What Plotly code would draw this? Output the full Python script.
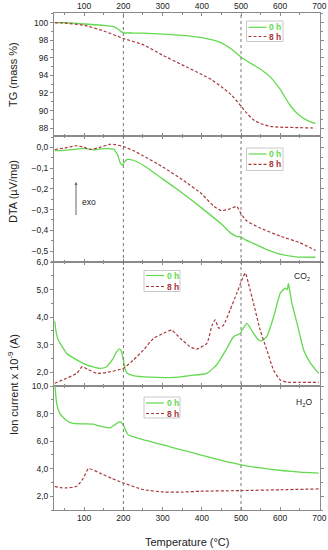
import plotly.graph_objects as go
from plotly.subplots import make_subplots

# ---------------- data ----------------
tg_t0 = [25, 50, 100, 150, 175, 185, 195, 200, 225, 250, 300, 350, 400, 430, 450, 475, 500, 520, 535, 550, 575, 600, 625, 650, 670, 690]
tg_0h = [100.0, 100.0, 99.85, 99.7, 99.55, 99.3, 98.95, 98.85, 98.82, 98.8, 98.7, 98.55, 98.3, 98.0, 97.7, 97.0, 96.1, 95.5, 95.1, 94.7, 93.8, 92.4, 90.6, 89.4, 88.85, 88.5]
tg_t8 = [25, 50, 100, 150, 200, 250, 300, 350, 400, 425, 450, 475, 500, 515, 530, 550, 575, 600, 650, 690]
tg_8h = [100.0, 99.95, 99.7, 99.05, 98.2, 97.5, 96.3, 95.2, 94.1, 93.5, 92.7, 91.8, 90.5, 89.7, 89.0, 88.5, 88.2, 88.1, 88.05, 88.0]

dta_t0 = [25, 50, 75, 100, 125, 150, 175, 185, 192, 197, 203, 210, 225, 250, 300, 350, 400, 450, 475, 490, 500, 510, 530, 560, 600, 640, 690]
dta_0h = [-0.016, -0.014, -0.01, -0.005, -0.012, -0.006, -0.008, -0.035, -0.075, -0.085, -0.07, -0.058, -0.062, -0.085, -0.152, -0.22, -0.293, -0.37, -0.415, -0.43, -0.432, -0.445, -0.462, -0.488, -0.515, -0.528, -0.53]
dta_t8 = [25, 50, 80, 100, 115, 140, 165, 180, 200, 225, 250, 300, 350, 400, 430, 450, 470, 489, 500, 515, 550, 600, 650, 690]
dta_8h = [-0.01, -0.003, 0.008, 0.0, -0.01, 0.0, 0.015, 0.013, 0.004, -0.015, -0.04, -0.094, -0.155, -0.225, -0.283, -0.305, -0.298, -0.285, -0.32, -0.355, -0.39, -0.428, -0.46, -0.497]

co2_t0 = [25, 28, 33, 45, 55, 81, 106, 140, 157, 174, 183, 190, 195, 200, 205, 210, 225, 268, 328, 370, 413, 438, 464, 481, 498, 506, 515, 523, 532, 545, 553, 566, 583, 600, 613, 618, 621, 625, 630, 643, 660, 677, 698]
co2_0h = [3.85, 3.5, 3.2, 2.9, 2.69, 2.45, 2.27, 2.14, 2.2, 2.5, 2.75, 2.85, 2.75, 2.45, 2.1, 1.96, 1.88, 1.82, 1.81, 1.88, 1.96, 2.27, 2.87, 3.29, 3.41, 3.6, 3.77, 3.62, 3.41, 3.17, 3.14, 3.3, 4.0, 4.86, 5.05, 5.0, 5.22, 4.9, 4.5, 3.77, 2.8, 2.33, 1.96]
co2_t8 = [25, 55, 81, 95, 110, 132, 157, 200, 226, 251, 277, 302, 323, 345, 370, 387, 413, 426, 434, 443, 455, 472, 489, 502, 511, 519, 532, 549, 566, 583, 600, 617, 650, 698]
co2_8h = [1.6, 1.78, 1.96, 2.2, 2.1, 1.96, 1.99, 2.14, 2.45, 2.8, 3.23, 3.41, 3.53, 3.23, 2.93, 2.84, 3.05, 3.7, 3.9, 3.6, 3.7, 4.25, 4.86, 5.34, 5.6, 5.22, 4.5, 3.53, 2.8, 2.08, 1.72, 1.64, 1.63, 1.63]

h2o_t0 = [25, 30, 38, 55, 72, 100, 123, 140, 166, 179, 191, 200, 207, 213, 225, 250, 302, 350, 396, 450, 500, 550, 609, 650, 698]
h2o_0h = [10.2, 8.7, 8.0, 7.5, 7.28, 7.25, 7.23, 7.09, 6.97, 7.2, 7.42, 7.16, 6.7, 6.44, 6.32, 6.1, 5.72, 5.35, 5.0, 4.6, 4.28, 4.05, 3.85, 3.75, 3.68]
h2o_t8 = [25, 40, 55, 81, 98, 111, 140, 170, 200, 251, 302, 350, 396, 500, 600, 698]
h2o_8h = [2.72, 2.62, 2.6, 2.72, 3.32, 4.0, 3.68, 3.3, 2.96, 2.48, 2.31, 2.3, 2.36, 2.41, 2.47, 2.53]

series_names = ["0 h", "8 h"]
marker_temps = [200, 500]

# ---------------- style ----------------
GREEN = "#63d94f"
RED = "#a8383a"
FRAME = "#8a8a8a"
FONT = "Liberation Sans, Arial, sans-serif"
W, H = 328, 550
L, R, T, B = 54, 8, 13, 40
PW, PH = W - L - R, H - T - B


def px(xp):
    return (xp - L) / PW


def py(yp):
    return (H - B - yp) / PH


fig = make_subplots(rows=4, cols=1, shared_xaxes=True, vertical_spacing=0,
                     row_heights=[123, 126, 124, 124])

panels = [
    (tg_t0, tg_0h, tg_t8, tg_8h),
    (dta_t0, dta_0h, dta_t8, dta_8h),
    (co2_t0, co2_0h, co2_t8, co2_8h),
    (h2o_t0, h2o_0h, h2o_t8, h2o_8h),
]
for i, (ta, ya, tb, yb) in enumerate(panels, start=1):
    fig.add_trace(go.Scatter(x=ta, y=ya, mode="lines", name=series_names[0],
                             line=dict(color=GREEN, width=1.3, shape="spline", smoothing=0.5),
                             showlegend=False), row=i, col=1)
    fig.add_trace(go.Scatter(x=tb, y=yb, mode="lines", name=series_names[1],
                             line=dict(color=RED, width=1.2, dash="3px,2px", shape="spline", smoothing=0.5),
                             showlegend=False), row=i, col=1)

xcommon = dict(range=[23, 701.5], showline=True, linecolor=FRAME, linewidth=1, mirror="ticks",
               ticks="inside", ticklen=3, tickcolor=FRAME, dtick=100, tick0=0,
               minor=dict(ticks="inside", ticklen=2, dtick=50, tickcolor=FRAME),
               showgrid=False, zeroline=False, automargin=False,
               tickfont=dict(size=8.5, color="#222", family=FONT))
for i in range(1, 5):
    fig.update_xaxes(**xcommon, row=i, col=1)
fig.update_xaxes(showticklabels=True, side="top", row=1, col=1)
fig.update_xaxes(showticklabels=False, row=2, col=1)
fig.update_xaxes(showticklabels=False, row=3, col=1)
fig.update_xaxes(showticklabels=True, row=4, col=1)

ycommon = dict(showline=True, linecolor=FRAME, linewidth=1, mirror="ticks",
               ticks="outside", ticklen=3, tickcolor=FRAME, showgrid=False, zeroline=False,
               automargin=False, tickfont=dict(size=8.5, color="#222", family=FONT))
fig.update_yaxes(**ycommon, range=[87.1, 101.1], tickvals=[88, 90, 92, 94, 96, 98, 100],
                 minor=dict(ticks="outside", ticklen=2, dtick=1, tickcolor=FRAME), row=1, col=1)
fig.update_yaxes(**ycommon, range=[-0.553, 0.055], tickvals=[-0.5, -0.4, -0.3, -0.2, -0.1, 0.0],
                 tickformat=".1f",
                 minor=dict(ticks="outside", ticklen=2, dtick=0.05, tickcolor=FRAME), row=2, col=1)
fig.update_yaxes(**ycommon, range=[1.5, 6.0], tickvals=[2, 3, 4, 5, 6], tickformat=".1f",
                 minor=dict(ticks="outside", ticklen=2, dtick=0.5, tickcolor=FRAME), row=3, col=1)
fig.update_yaxes(**ycommon, range=[1.0, 10.0], tickvals=[2, 4, 6, 8, 10], tickformat=".1f",
                 minor=dict(ticks="outside", ticklen=2, dtick=1, tickcolor=FRAME), row=4, col=1)

shapes = []
for xv in marker_temps:
    shapes.append(dict(type="line", xref="x", yref="paper", x0=xv, x1=xv, y0=0, y1=1,
                       line=dict(color="#777", width=1, dash="dot")))

annotations = []
# legends drawn as boxes
legend_boxes = [(246.5, 21, 283, 41.5, 27.3, 36.5),
                (246.5, 148, 283, 170.5, 154, 164.3),
                (144, 270.5, 180, 291.5, 275.5, 286.5),
                (144, 397, 180, 418, 403, 413.5)]
for (x0, y0, x1, y1, r1, r2) in legend_boxes:
    shapes.append(dict(type="rect", xref="paper", yref="paper", x0=px(x0), x1=px(x1),
                       y0=py(y1), y1=py(y0), line=dict(color="#bbbbbb", width=0.8),
                       fillcolor="rgba(255,255,255,0)"))
    for (ry, col, dash, name) in [(r1, GREEN, "solid", series_names[0]), (r2, RED, "3px,2px", series_names[1])]:
        shapes.append(dict(type="line", xref="paper", yref="paper", x0=px(x0 + 2), x1=px(x0 + 20),
                           y0=py(ry), y1=py(ry), line=dict(color=col, width=1.2, dash=dash)))
        annotations.append(dict(xref="paper", yref="paper", x=px(x0 + 20.5), y=py(ry),
                                xanchor="left", yanchor="middle", showarrow=False,
                                text="<b>%s</b>" % name, font=dict(size=8.5, color=col, family=FONT)))

# axis titles
title_font = dict(size=11, color="#222", family=FONT)
annotations += [
    dict(xref="paper", yref="paper", x=px(13), y=py(75), text="TG (mass %)", textangle=-90,
         showarrow=False, xanchor="center", yanchor="middle", font=title_font),
    dict(xref="paper", yref="paper", x=px(13), y=py(192), text="DTA (µV/mg)", textangle=-90,
         showarrow=False, xanchor="center", yanchor="middle", font=title_font),
    dict(xref="paper", yref="paper", x=px(13), y=py(385), text="Ion current x 10<sup>-9</sup> (A)",
         textangle=-90, showarrow=False, xanchor="center", yanchor="middle", font=title_font),
    dict(xref="paper", yref="paper", x=px(187), y=py(542), text="Temperature (°C)",
         showarrow=False, xanchor="center", yanchor="middle", font=title_font),
    dict(xref="paper", yref="paper", x=px(302), y=py(277), text="CO<sub>2</sub>",
         showarrow=False, xanchor="center", yanchor="middle", font=dict(size=8.5, color="#222", family=FONT)),
    dict(xref="paper", yref="paper", x=px(304), y=py(402), text="H<sub>2</sub>O",
         showarrow=False, xanchor="center", yanchor="middle", font=dict(size=8.5, color="#222", family=FONT)),
    dict(xref="paper", yref="paper", x=px(76), y=py(182), ax=0, ay=35, text=" ",
         showarrow=True, arrowhead=2, arrowsize=0.6, arrowwidth=1, arrowcolor="#666",
         font=dict(size=1)),
    dict(xref="paper", yref="paper", x=px(80), y=py(202), text="exo", xanchor="left",
         showarrow=False, yanchor="middle", font=dict(size=8.5, color="#222", family=FONT)),
]

fig.update_layout(width=W, height=H, margin=dict(l=L, r=R, t=T, b=B, autoexpand=False),
                  plot_bgcolor="white", paper_bgcolor="white", separators=", ",
                  font=dict(family=FONT), shapes=shapes, annotations=annotations,
                  showlegend=False)

fig.write_html("out.html", config={"displayModeBar": False},
               post_script="document.body.style.margin='0';")
